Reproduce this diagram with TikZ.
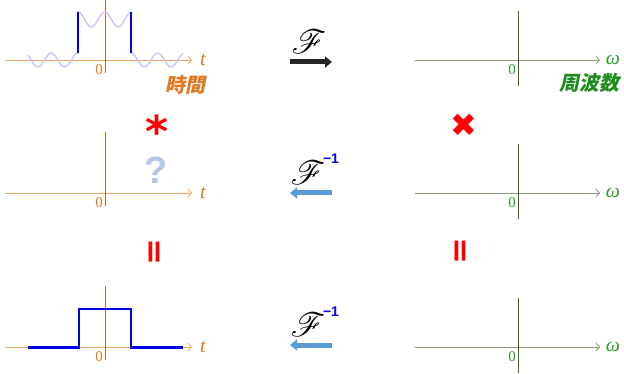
\documentclass[tikz,border=0pt]{standalone}
\usepackage{fontspec}
\usepackage{mathrsfs}
\usetikzlibrary{arrows.meta}
\newfontfamily\jpfont[FakeSlant=0.2]{Noto Sans CJK JP}
\newfontfamily\serffont{Liberation Serif}
\newfontfamily\dvfont{DejaVu Sans}
\newfontfamily\arfont{Liberation Sans}
\definecolor{taxis}{HTML}{F0A868}
\definecolor{tvert}{HTML}{C8661E}
\definecolor{tlab}{HTML}{E07820}
\definecolor{waxis}{HTML}{8C9678}
\definecolor{wvert}{HTML}{4A5A10}
\definecolor{wlab}{HTML}{2A9A2A}
\definecolor{jpgreen}{HTML}{1E8C1E}
\definecolor{sigblue}{HTML}{0000E6}
\definecolor{wavelight}{HTML}{C4C4F8}
\definecolor{invblue}{HTML}{5B9BD5}
\definecolor{qblue}{HTML}{B4C8E6}
\newcommand{\fourier}{\scalebox{1.35}{$\mathscr{F}$}}
\tikzset{
  axisline/.style={-{Straight Barb[length=3.5pt,width=8pt]}, line width=0.8pt},
  taxisline/.style={axisline, draw=taxis},
  waxisline/.style={axisline, draw=waxis},
  tvertline/.style={draw=tvert, line width=0.9pt},
  wvertline/.style={draw=wvert, line width=0.9pt},
  zero/.style={font=\serffont\fontsize{15}{15}\selectfont, inner sep=0pt},
  varlab/.style={font=\serffont\itshape\fontsize{20}{20}\selectfont, inner sep=0pt},
  jplab/.style={font=\jpfont\bfseries\fontsize{20}{20}\selectfont, inner sep=0pt},
  fop/.style={font=\fontsize{26}{26}\selectfont, inner sep=0pt},
  inv/.style={font=\arfont\bfseries\fontsize{14}{14}\selectfont, text=sigblue, inner sep=0pt},
  farr/.style={-{Triangle[length=7pt,width=11pt]}, line width=5pt, draw=black!85},
  iarr/.style={-{Triangle[length=7pt,width=11pt]}, line width=5pt, draw=invblue},
  wave/.style={draw=wavelight, line width=1.3pt},
  sig/.style={draw=sigblue, line width=1.5pt},
  redmark/.style={text=red, inner sep=0pt},
}
\begin{document}
\begin{tikzpicture}[x=1pt,y=-1pt]
\useasboundingbox (0,0) rectangle (624,374);
\foreach \y in {60,193,347}{
  \draw[taxisline] (5,\y) -- (192,\y);
  \draw[tvertline] (105,\y-61) -- (105,\y+13);
  \node[zero, text=tlab] (zt\y) at (99,\y+10) {0};
  \node[varlab, text=tlab] (t\y) at (203,\y) {t};
  \draw[waxisline] (415,\y) -- (600,\y);
  \draw[wvertline] (518,\y-49) -- (518,\y+26);
  \node[zero, text=wlab] (zw\y) at (512,\y+10) {0};
  \node[varlab, text=wlab] (w\y) at (613,\y) {ω};
}
\node[jplab, text=tlab] (time) at (185,85) {時間};
\node[jplab, text=jpgreen] (freq) at (589,83) {周波数};
\draw[wave] plot[domain=28:78, samples=60] (\x, {60-7*cos(13.458*(\x-78))});
\draw[wave] plot[domain=78:131, samples=60] (\x, {19.5-7.5*cos(13.458*(\x-78))});
\draw[wave] plot[domain=131:183, samples=60] (\x, {60-7*cos(13.458*(\x-131))});
\draw[sig] (78,12) -- (78,53);
\draw[sig] (131,12) -- (131,53);
\draw[sig, line width=2.2pt] (28,347.5) -- (79,347.5) -- (79,309) -- (131,309) -- (131,347.5) -- (183,347.5);
\node[fop] (f1) at (309,42) {\fourier};
\coordinate (a1s) at (290,62);
\coordinate (a1e) at (332,62);
\draw[farr] (a1s) -- (a1e);
\node[fop] (f2) at (308,173) {\fourier};
\node[inv] (i2) at (331,159) {−1};
\coordinate (a2s) at (332,193);
\coordinate (a2e) at (290,193);
\draw[iarr] (a2s) -- (a2e);
\node[fop] (f3) at (308,325) {\fourier};
\node[inv] (i3) at (331,312) {−1};
\coordinate (a3s) at (332,345);
\coordinate (a3e) at (290,345);
\draw[iarr] (a3s) -- (a3e);
\node[redmark, font=\dvfont\bfseries\fontsize{44}{44}\selectfont, text height=0.78em, text depth=0pt] (conv) at (157,143.5) {*};
\node[font=\arfont\bfseries\fontsize{38}{38}\selectfont, text=qblue, inner sep=0pt, text height=0.5em, text depth=0pt] (quest) at (156,181) {?};
\node[redmark, font=\dvfont\fontsize{32}{32}\selectfont] (prod) at (464,125) {✖};
\node[redmark, rotate=90, font=\dvfont\bfseries\fontsize{32}{32}\selectfont] (eq1) at (157,252) {=};
\node[redmark, rotate=90, font=\dvfont\bfseries\fontsize{32}{32}\selectfont] (eq2) at (463,251) {=};
\end{tikzpicture}
\end{document}
